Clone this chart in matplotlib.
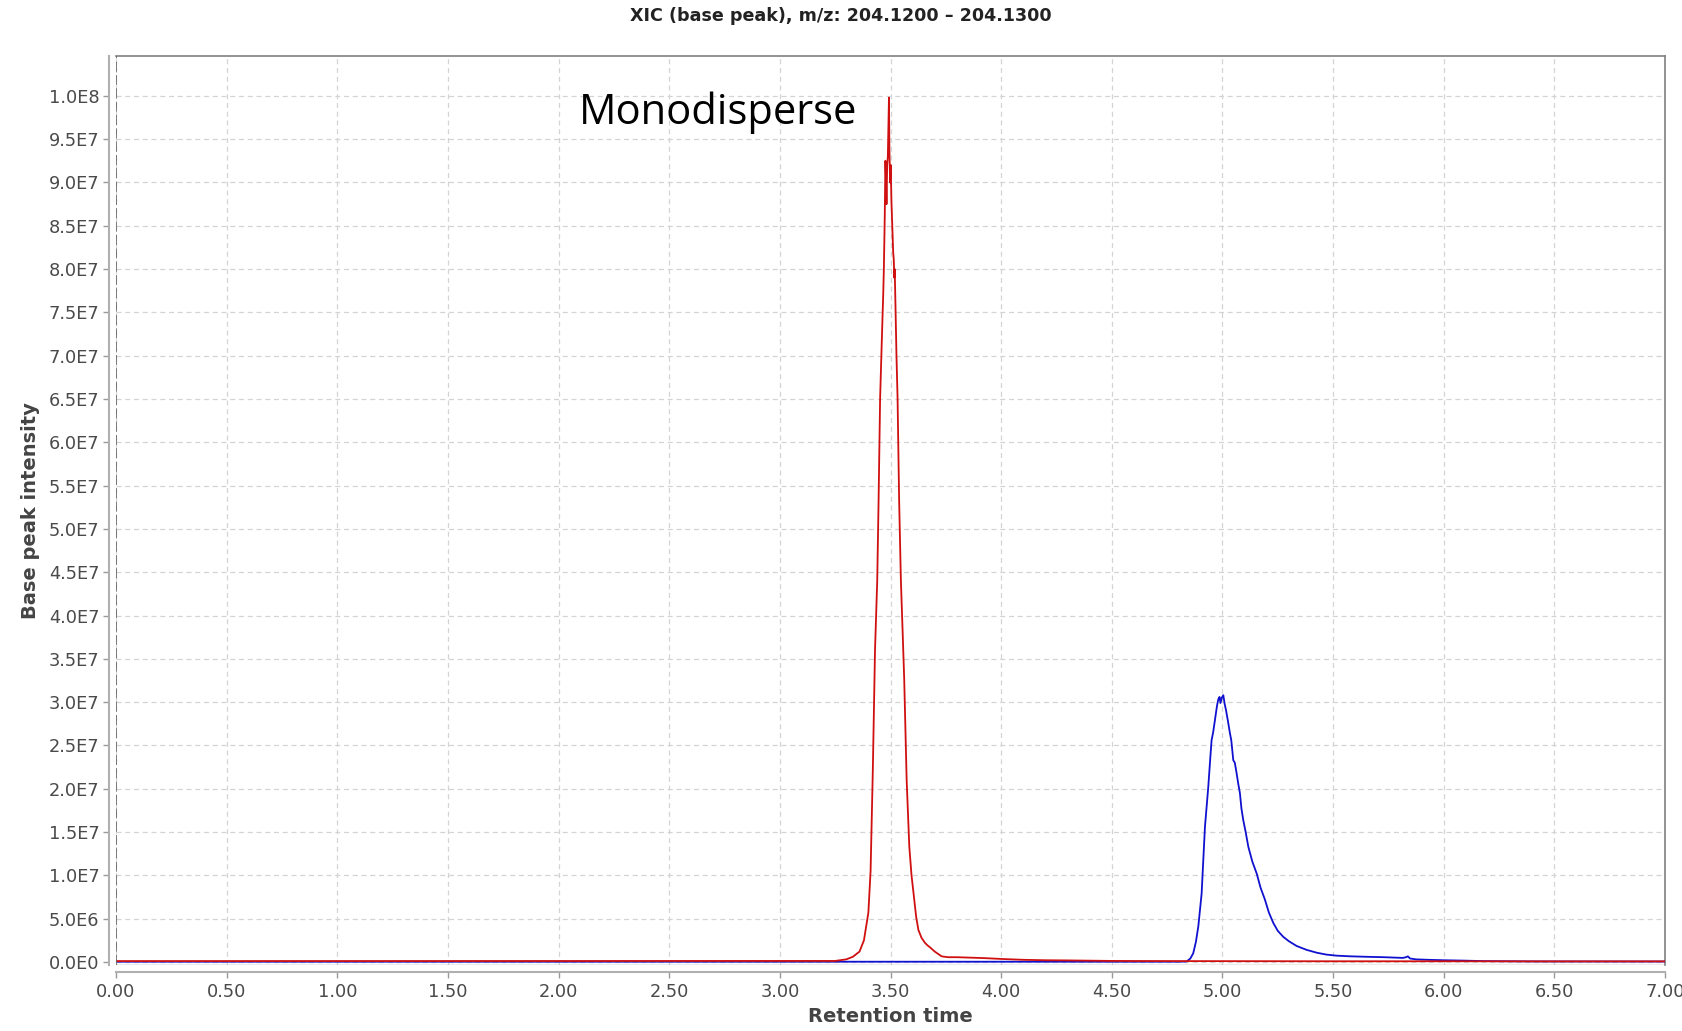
import matplotlib
matplotlib.use("Agg")
import matplotlib.pyplot as plt
from matplotlib.ticker import FixedLocator

# ---------------- data (intensity in units of 1e6) ----------------
red_time = [0.00, 3.25, 3.30, 3.33, 3.36, 3.38, 3.40, 3.41, 3.42, 3.43, 3.44, 3.446,
            3.453, 3.461, 3.467, 3.470, 3.474, 3.477, 3.480, 3.482, 3.485, 3.488,
            3.491, 3.493, 3.495, 3.498, 3.501, 3.504, 3.508, 3.512, 3.515, 3.517,
            3.519, 3.522, 3.527, 3.532, 3.539, 3.547, 3.555, 3.562, 3.573, 3.585,
            3.595, 3.606, 3.616, 3.626, 3.640, 3.656, 3.668, 3.678, 3.700, 3.731,
            3.760, 3.800, 3.859, 3.920, 4.000, 4.100, 4.200, 4.300, 4.400, 4.500,
            4.800, 5.500, 6.000, 6.500, 7.000]
red_int = [0.10, 0.12, 0.30, 0.60, 1.2, 2.5, 5.7, 10.5, 22.0, 36.0, 44.0, 53.0,
           65.0, 72.0, 77.0, 80.0, 86.0, 92.5, 90.0, 87.5, 92.0, 93.0,
           97.0, 99.8, 94.0, 90.0, 92.0, 88.0, 85.0, 82.0, 81.0, 79.0,
           80.0, 76.4, 70.0, 65.0, 53.3, 44.0, 38.0, 32.6, 21.0, 13.3,
           10.0, 7.5, 5.2, 3.7, 2.8, 2.2, 1.9, 1.7, 1.2, 0.65,
           0.55, 0.55, 0.50, 0.45, 0.35, 0.25, 0.20, 0.18, 0.15, 0.12,
           0.10, 0.08, 0.08, 0.07, 0.07]

blue_time = [0.00, 4.80, 4.838, 4.855, 4.868, 4.880, 4.891, 4.906, 4.921, 4.936,
             4.945, 4.951, 4.958, 4.966, 4.975, 4.981, 4.987, 4.991, 4.997, 5.004,
             5.010, 5.016, 5.025, 5.034, 5.040, 5.049, 5.056, 5.064, 5.072, 5.079,
             5.086, 5.094, 5.105, 5.117, 5.135, 5.155, 5.172, 5.192, 5.210, 5.230,
             5.250, 5.275, 5.300, 5.335, 5.380, 5.426, 5.470, 5.516, 5.580, 5.650,
             5.730, 5.815, 5.830, 5.838, 5.848, 5.875, 5.930, 6.000, 6.100, 6.180,
             6.400, 7.000]
blue_int = [0.03, 0.03, 0.05, 0.40, 1.0, 2.3, 4.1, 7.9, 15.6, 20.2,
            23.5, 25.6, 26.5, 27.9, 29.5, 30.3, 30.6, 29.9, 30.5, 30.8,
            29.8, 29.1, 27.8, 26.4, 25.6, 23.3, 23.0, 21.8, 20.5, 19.5,
            17.7, 16.4, 15.0, 13.3, 11.6, 10.2, 8.6, 7.2, 5.7, 4.5,
            3.6, 2.9, 2.4, 1.85, 1.4, 1.07, 0.85, 0.73, 0.65, 0.60,
            0.55, 0.47, 0.55, 0.65, 0.40, 0.30, 0.25, 0.20, 0.15, 0.10,
            0.06, 0.05]

x_ticks = [0.0, 0.5, 1.0, 1.5, 2.0, 2.5, 3.0, 3.5, 4.0, 4.5, 5.0, 5.5, 6.0, 6.5, 7.0]
y_ticks = [0, 5, 10, 15, 20, 25, 30, 35, 40, 45, 50, 55, 60, 65, 70, 75, 80, 85, 90, 95, 100]
y_tick_labels = ["0.0E0", "5.0E6", "1.0E7", "1.5E7", "2.0E7", "2.5E7", "3.0E7", "3.5E7",
                 "4.0E7", "4.5E7", "5.0E7", "5.5E7", "6.0E7", "6.5E7", "7.0E7", "7.5E7",
                 "8.0E7", "8.5E7", "9.0E7", "9.5E7", "1.0E8"]

title = "XIC (base peak), m/z: 204.1200 \u2013 204.1300"
x_label = "Retention time"
y_label = "Base peak intensity"
annotation = "Monodisperse"

# ---------------- figure ----------------
W, H = 1682, 1031
fig = plt.figure(figsize=(W / 100, H / 100), dpi=100)
fig.patch.set_facecolor("white")

left, right, top, bottom = 116, 1665, 56, 965
ax = fig.add_axes([left / W, (H - bottom) / H, (right - left) / W, (bottom - top) / H])

ax.plot(blue_time, [v * 1e6 for v in blue_int], color="#1010d0", lw=1.3, zorder=3)
ax.plot(red_time, [v * 1e6 for v in red_int], color="#d01010", lw=1.3, zorder=4)

ax.set_xlim(0, 7)
ax.set_ylim(-0.35e6, 104.6e6)

ax.xaxis.set_major_locator(FixedLocator(x_ticks))
ax.set_xticklabels([f"{v:.2f}" for v in x_ticks])
ax.yaxis.set_major_locator(FixedLocator([v * 1e6 for v in y_ticks]))
ax.set_yticklabels(y_tick_labels)

ax.grid(True, color="#d4d4d4", linestyle=(0, (4, 3)), linewidth=0.9)
ax.set_axisbelow(True)

tick_col = "#4a4a4a"
ax.tick_params(axis="both", colors="#9a9a9a", labelcolor=tick_col, labelsize=12.8,
               length=4, width=1, direction="out")
ax.tick_params(axis="x", pad=4)
ax.tick_params(axis="y", pad=3)

for s in ["left", "bottom"]:
    ax.spines[s].set_position(("outward", 5))
    ax.spines[s].set_color("#b0b0b0")
    ax.spines[s].set_linewidth(1.5)
for s in ["top", "right"]:
    ax.spines[s].set_color("#808080")
    ax.spines[s].set_linewidth(1.2)

# data area border on left/bottom
ax.axvline(0, color="#666666", lw=1.2, linestyle=(0, (6, 2)), zorder=5)
ax.axhline(-0.35e6, color="#999999", lw=1.0, zorder=2)

ax.set_xlabel(x_label, fontsize=14, fontweight="bold", color="#444444", labelpad=4)
ax.set_ylabel(y_label, fontsize=14, fontweight="bold", color="#444444", labelpad=6)

fig.text(841 / W, 1 - 16 / H, title, ha="center", va="center",
         fontsize=12.6, fontweight="bold", color="#222222")

ax.text(2.72, 98.0e6, annotation, ha="center", va="center",
        fontsize=30, family="Open Sans", color="black")

fig.savefig("out.png", dpi=100, facecolor="white")
